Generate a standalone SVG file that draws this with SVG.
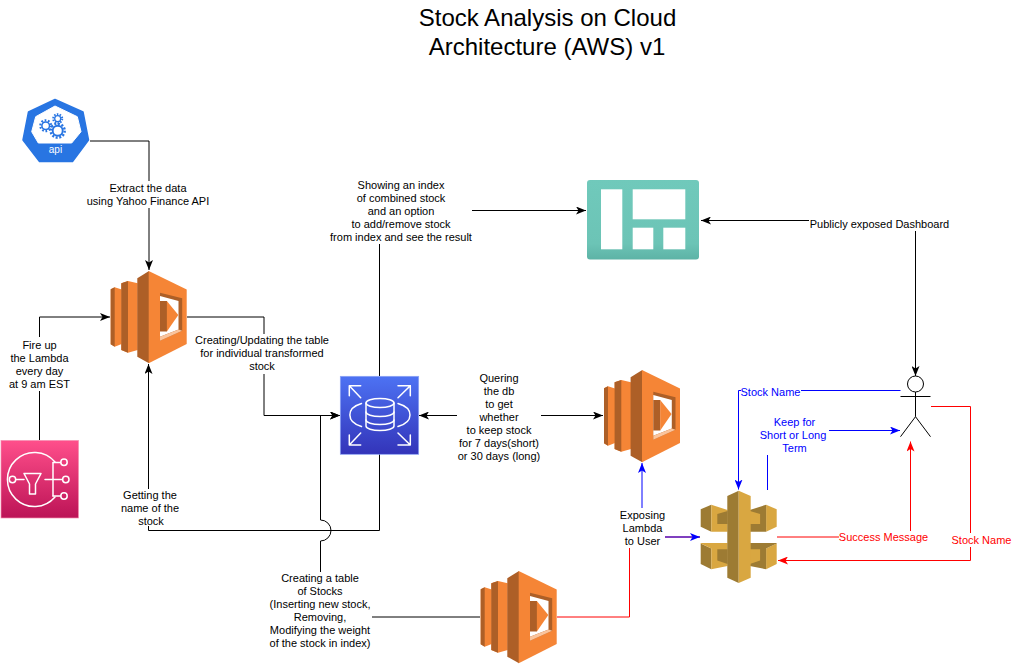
<svg xmlns="http://www.w3.org/2000/svg" width="1012" height="665" viewBox="0 0 1012 665">
<style>
text{font-family:"Liberation Sans",Arial,sans-serif;font-size:11px;text-anchor:middle;fill:#000}
.title{font-size:24px}
.blue{fill:#0000ff}.red{fill:#ff0000}
.c{fill:none;stroke:#000;stroke-width:1}
.cb{fill:none;stroke:#0000ff;stroke-width:1}
.cr{fill:none;stroke:#ff0000;stroke-width:1}
.bg{fill:#fff}
.icon{fill:none;stroke:#fff;stroke-width:1.5;stroke-linecap:round;stroke-linejoin:round}
.lo{fill:#F58536}.ld{fill:#AD5F27}
.ag{fill:#D9A741}.ad{fill:#9D7B33}
</style>
<defs>
<marker id="ak" markerUnits="userSpaceOnUse" markerWidth="10" markerHeight="8" viewBox="0 0 10 8" refX="10" refY="4" orient="auto-start-reverse"><path d="M0,0 L10,4 L0,8 L2.5,4 Z" fill="#000"/></marker>
<marker id="ab" markerUnits="userSpaceOnUse" markerWidth="10" markerHeight="8" viewBox="0 0 10 8" refX="10" refY="4" orient="auto"><path d="M0,0 L10,4 L0,8 L2.5,4 Z" fill="#0000ff"/></marker>
<marker id="ar" markerUnits="userSpaceOnUse" markerWidth="10" markerHeight="8" viewBox="0 0 10 8" refX="10" refY="4" orient="auto"><path d="M0,0 L10,4 L0,8 L2.5,4 Z" fill="#ff0000"/></marker>
<linearGradient id="gRds" x1="0" y1="0" x2="0" y2="1"><stop offset="0" stop-color="#4D72F3"/><stop offset="1" stop-color="#3334B9"/></linearGradient>
<linearGradient id="gSns" x1="0" y1="0" x2="0" y2="1"><stop offset="0" stop-color="#FF4F8B"/><stop offset="1" stop-color="#BC1356"/></linearGradient>
<linearGradient id="gDash" x1="0" y1="0" x2="0" y2="1"><stop offset="0" stop-color="#70C9BB"/><stop offset="0.8" stop-color="#6CC4B6"/><stop offset="1" stop-color="#5DB3A6"/></linearGradient>
<g id="lambdaIcon">
<polygon class="lo" points="0,18.3 4,16.3 11,18.5 11,73 4,75.7 0,73.3"/>
<polygon class="ld" points="0,18.3 4,16.3 4,75.7 0,73.3"/>
<polygon class="lo" points="10.6,12.3 17.3,10 27,12.3 27,79 17.3,81.7 10.6,79"/>
<polygon class="ld" points="10.6,12.3 17.3,10 17.3,81.7 10.6,79"/>
<polygon class="ld" points="26.6,7.3 38.3,0 38.3,92.3 26.6,85.7"/>
<polygon class="lo" points="38,0 76,18.5 76,73 38,92.3"/>
<polygon class="ld" points="49.3,21.7 71.5,27.3 71.5,59.7 49.3,69.7"/>
<polygon fill="#fff" points="49.3,25 67.8,30 67.8,58.5 49.3,65.7"/>
<polygon fill="#FBC49C" points="49.3,65.7 67.8,58.5 71.5,59.7 49.3,69.7"/>
<rect class="ld" x="49.3" y="30" width="7" height="30.5"/>
<polygon class="lo" points="56.2,30 67.6,44 56.2,60.5"/>
</g>
</defs>

<rect width="1012" height="665" fill="#fff"/>

<g id="connectors">
<path class="c" d="M90,141 H149 V270" marker-end="url(#ak)"/>
<path class="c" d="M39.5,440 V317 H110" marker-end="url(#ak)"/>
<path class="c" d="M187,317 H264 V415.5 H340" marker-end="url(#ak)"/>
<path class="c" d="M379.5,454 V530.5 H148.5 V364" marker-end="url(#ak)"/>
<path class="c" d="M480,617 H320.5 V541 A10.5,10.5 0 0 0 320.5,520 V415.5 H340" marker-end="url(#ak)"/>
<path class="c" d="M379.5,376 V210.5 H586" marker-end="url(#ak)"/>
<path class="c" d="M701,220.5 H915.5 V376" marker-start="url(#ak)" marker-end="url(#ak)"/>
<path class="c" d="M419,415.5 H603" marker-start="url(#ak)" marker-end="url(#ak)"/>
<path class="cr" d="M557,617 H629.5 V537 H700"/>
<path class="cb" d="M642,537 V463" marker-end="url(#ab)"/>
<path class="cb" d="M642,537 H700" marker-end="url(#ab)"/>
<path class="cr" d="M777,537 H910.5 V441.5" marker-end="url(#ar)"/>
<path class="cr" d="M931,406.5 H970.5 V560.5 H778" marker-end="url(#ar)"/>
<path class="cb" d="M900.5,390.5 H738.5 V489.5" marker-end="url(#ab)"/>
<path class="cb" d="M767.5,490 V430.5 H900" marker-end="url(#ab)"/>
</g>

<g id="labels">
<rect class="bg" x="86" y="181" width="124" height="27"/>
<text x="148" y="192">Extract the data</text>
<text x="148" y="205">using Yahoo Finance API</text>

<rect class="bg" x="8" y="337" width="62" height="54"/>
<text x="39.5" y="349">Fire up</text>
<text x="39.5" y="362">the Lambda</text>
<text x="39.5" y="375">every day</text>
<text x="39.5" y="388">at 9 am EST</text>

<rect class="bg" x="195" y="334" width="135" height="40"/>
<text x="262" y="344">Creating/Updating the table</text>
<text x="262" y="357">for individual transformed</text>
<text x="262" y="370">stock</text>

<rect class="bg" x="120" y="489" width="60" height="37"/>
<text x="150" y="499">Getting the</text>
<text x="150" y="512">name of the</text>
<text x="151" y="525">stock</text>

<rect class="bg" x="269" y="572" width="103" height="79"/>
<text x="320" y="582">Creating a table</text>
<text x="320" y="595">of Stocks</text>
<text x="320" y="608">(Inserting new stock,</text>
<text x="320" y="621">Removing,</text>
<text x="320" y="634">Modifying the weight</text>
<text x="320" y="647">of the stock in index)</text>

<rect class="bg" x="330" y="180" width="142" height="64"/>
<text x="401" y="189">Showing an index</text>
<text x="401" y="202">of combined stock</text>
<text x="401" y="215">and an option</text>
<text x="401" y="228">to add/remove stock</text>
<text x="401" y="241">from index and see the result</text>

<rect class="bg" x="809" y="217" width="141" height="14"/>
<text x="879.5" y="228">Publicly exposed Dashboard</text>

<rect class="bg" x="457" y="371" width="84" height="92"/>
<text x="499" y="382">Quering</text>
<text x="499" y="395">the db</text>
<text x="499" y="408">to get</text>
<text x="499" y="421">whether</text>
<text x="499" y="434">to keep stock</text>
<text x="499" y="447">for 7 days(short)</text>
<text x="499" y="460">or 30 days (long)</text>

<rect class="bg" x="618" y="508" width="47" height="40"/>
<text x="642.5" y="519">Exposing</text>
<text x="642.5" y="532">Lambda</text>
<text x="642.5" y="545">to User</text>

<rect class="bg" x="741" y="389" width="60" height="12"/>
<text class="blue" x="770.5" y="396">Stock Name</text>

<rect class="bg" x="759" y="415" width="70" height="40"/>
<text class="blue" x="794.5" y="426">Keep for</text>
<text class="blue" x="793" y="439">Short or Long</text>
<text class="blue" x="794.5" y="452">Term</text>

<rect class="bg" x="839" y="531" width="90" height="14"/>
<text class="red" x="883.5" y="541">Success Message</text>

<rect class="bg" x="951" y="533" width="61" height="14"/>
<text class="red" x="981.5" y="544">Stock Name</text>
</g>

<g id="title">
<text class="title" x="547.5" y="26">Stock Analysis on Cloud</text>
<text class="title" x="547" y="55">Architecture (AWS) v1</text>
</g>

<g id="yahoo-api">
<polygon points="55,99.5 83,112 88.5,140 72.5,161.5 39.5,161.5 23,140 28.5,112" fill="#2875E2" stroke="#2875E2" stroke-width="1.5" stroke-linejoin="round"/>
<polygon points="55,106 77.3,116.7 81,131.7 71.7,143 38.3,143 31.7,131.7 35.7,116.7" fill="#fff" stroke="#fff" stroke-linejoin="round"/>
<g fill="none" stroke="#2875E2">
<circle cx="45.7" cy="125.7" r="3.8" stroke-width="1.5"/>
<circle cx="45.7" cy="125.7" r="5.4" stroke-width="2.2" stroke-dasharray="1.7 1.69"/>
<circle cx="57.7" cy="118.7" r="3" stroke-width="1.3"/>
<circle cx="57.7" cy="118.7" r="4.5" stroke-width="2" stroke-dasharray="1.5 1.33"/>
<circle cx="57.7" cy="130.7" r="5" stroke-width="1.9"/>
<circle cx="57.7" cy="130.7" r="7" stroke-width="2.4" stroke-dasharray="2 1.67"/>
</g>
<text x="55.5" y="153" style="fill:#fff;font-size:10px">api</text>
</g>

<g id="lambda-etl"><use href="#lambdaIcon" x="110.7" y="271"/></g>
<g id="lambda-query"><use href="#lambdaIcon" x="604" y="370"/></g>
<g id="lambda-stocks"><use href="#lambdaIcon" x="480.7" y="571"/></g>

<g id="eventbridge-sns">
<rect x="1" y="440.5" width="77.5" height="77.5" fill="url(#gSns)" stroke="#F58DB0" stroke-width="0.7"/>
<g class="icon">
<path d="M55,462 A27,27 0 1 0 55,497"/>
<circle cx="12.5" cy="479.5" r="3.2"/>
<path d="M16,479.5 H24"/>
<path d="M24,473.5 H41 L35.5,484 V494 H29.5 V484 Z"/>
<path d="M45,479.5 H62.5"/>
<path d="M53,463 V496"/>
<path d="M53,462.5 H60.5"/>
<path d="M53,496 H60.5"/>
<circle cx="64" cy="462.3" r="3.2"/>
<circle cx="65.8" cy="479.5" r="3.2"/>
<circle cx="64" cy="496" r="3.2"/>
</g>
</g>

<g id="rds">
<rect x="340.3" y="376.3" width="78.4" height="78" fill="url(#gRds)" stroke="#8CA4F5" stroke-width="0.7"/>
<g class="icon">
<ellipse cx="380" cy="403" rx="14" ry="4.5"/>
<path d="M366,403 V426 A14,4.5 0 0 0 394,426 V403"/>
<path d="M366,412 A14,4.5 0 0 0 394,412"/>
<path d="M366,420 A14,4.5 0 0 0 394,420"/>
<path d="M361.5,403.5 C346,408 346,422 361.5,426.5"/>
<path d="M398,403.5 C414,408 414,422 398,426.5"/>
<path d="M360.7,397.7 L349.3,385.7 M349.3,395.7 V385.7 H360.7"/>
<path d="M398,397.7 L410.3,385.7 M410.3,395.7 V385.7 H398"/>
<path d="M360.7,433 L349.3,445 M349.3,435 V445 H360.7"/>
<path d="M398,433 L410.3,445 M410.3,435 V445 H398"/>
</g>
</g>

<g id="dashboard">
<rect x="587" y="180" width="112" height="79.5" rx="3" fill="url(#gDash)"/>
<rect x="601" y="189.3" width="21.3" height="60" fill="#fff"/>
<rect x="632.7" y="189.3" width="52.6" height="30" fill="#fff"/>
<rect x="632.7" y="227.7" width="20.6" height="21.6" fill="#fff"/>
<rect x="663.3" y="227.7" width="22" height="21.6" fill="#fff"/>
</g>

<g id="api-gateway">
<polygon class="ad" points="700.7,509.3 711.3,504.7 711.3,531.7 700.7,526.7"/>
<polygon class="ag" points="711.3,504.7 727.6,510 727.6,531.7 711.3,531.7"/>
<polygon class="ad" points="717.3,514 727.6,511 727.6,524 717.3,524"/>
<polygon class="ag" points="776.7,509.3 766.1,504.7 766.1,531.7 776.7,526.7"/>
<polygon class="ad" points="766.1,504.7 749.8,510 749.8,531.7 766.1,531.7"/>
<polygon class="ag" points="760.1,514 749.8,511 749.8,524 760.1,524"/>
<polygon class="ad" points="700.7,543.5 711.3,548.5 711.3,569.3 700.7,564"/>
<polygon class="ag" points="711.3,548.5 700.7,543.5 700.7,543 727.6,543 727.6,566 711.3,569.3"/>
<polygon class="ad" points="717.3,549.3 727.6,549.3 727.6,564 717.3,560.5"/>
<polygon class="ag" points="776.7,543.5 766.1,548.5 766.1,569.3 776.7,564"/>
<polygon class="ad" points="766.1,548.5 776.7,543.5 776.7,543 749.8,543 749.8,566 766.1,569.3"/>
<polygon class="ag" points="760.1,549.3 749.8,549.3 749.8,564 760.1,560.5"/>
<polygon class="ad" points="727.3,496 738.7,490.7 738.7,583 727.3,577.7"/>
<polygon class="ag" points="738.7,490.7 750.7,496 750.7,577.7 738.7,583"/>
</g>

<g id="user" fill="none" stroke="#000" stroke-width="1">
<circle cx="915.5" cy="384" r="8" fill="#fff"/>
<path d="M915.5,392 V416.7 M900.5,396.5 H930.5 M915.5,416.7 L900.5,436.7 M915.5,416.7 L930.5,436.7"/>
</g>
</svg>
